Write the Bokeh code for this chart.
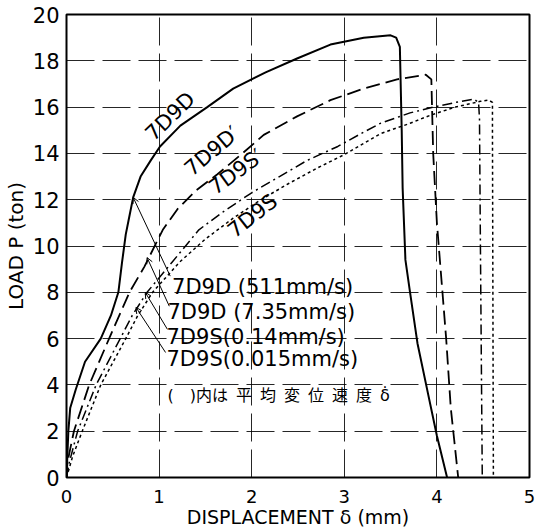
from bokeh.plotting import figure
from bokeh.models import Range1d, FixedTicker, ColumnDataSource, Arrow, OpenHead
from bokeh.core.properties import value
from bokeh.embed import file_html
from bokeh.resources import INLINE

# ---- data ----
x_7d9d_511 = [0, 0.01, 0.02, 0.04, 0.1, 0.2, 0.37, 0.48, 0.56, 0.6, 0.64, 0.67, 0.72, 0.8, 0.91, 1.01,
              1.23, 1.52, 1.8, 2.15, 2.49, 2.85, 3.21, 3.5, 3.56, 3.6, 3.62, 3.63, 3.66, 3.71, 3.79, 3.9, 4.0, 4.11]
y_7d9d_511 = [0, 1, 2, 3, 3.8, 5, 6, 7, 8, 9.3, 10.5, 11.1, 12.1, 13.0, 13.7, 14.3,
              15.2, 16.0, 16.8, 17.5, 18.1, 18.7, 19.0, 19.1, 19.0, 18.6, 15.0, 12.5, 9.4, 8.0, 5.8, 3.7, 1.8, 0]

x_7d9d_735 = [0, 0.01, 0.08, 0.245, 0.46, 0.68, 0.84, 1.04, 1.2, 1.4, 1.63, 1.9, 2.13, 2.49, 2.85, 3.21,
              3.57, 3.88, 3.94, 3.96, 4.0, 4.04, 4.1, 4.15, 4.23]
y_7d9d_735 = [0, 0.65, 2, 4, 6, 8, 9.1, 10.7, 11.6, 12.4, 13.1, 14.0, 14.8, 15.6, 16.3, 16.8,
              17.2, 17.4, 17.2, 14, 11, 9, 6, 3, 0]

x_7d9s_014 = [0, 0.03, 0.12, 0.32, 0.58, 0.71, 0.87, 1.14, 1.43, 1.7, 2.0, 2.3, 2.6, 2.93, 3.2, 3.39,
              3.71, 3.96, 4.2, 4.4, 4.45, 4.46, 4.47, 4.49]
y_7d9s_014 = [0, 0.65, 2, 4, 6, 7, 8, 9.3, 10.7, 11.5, 12.3, 13.0, 13.7, 14.3, 14.9, 15.3,
              15.75, 16.0, 16.2, 16.35, 16.2, 15.5, 10, 0]

x_7d9s_0015 = [0, 0.03, 0.065, 0.17, 0.37, 0.64, 0.77, 0.93, 1.22, 1.5, 1.8, 2.1, 2.4, 2.7, 3.0, 3.39,
               3.71, 3.93, 4.2, 4.47, 4.56, 4.6, 4.6, 4.61]
y_7d9s_0015 = [0, 0.4, 0.9, 2, 4, 6, 7, 8, 9.3, 10.3, 11.2, 12.0, 12.7, 13.35, 13.95, 14.85,
               15.3, 15.65, 16.0, 16.25, 16.3, 16.2, 15, 0]

curve_labels = ["7D9D", "7D9D′", "7D9S′", "7D9S"]
curve_label_x = [1.12, 1.57, 1.83, 2.01]
curve_label_y = [15.6, 14.1, 13.2, 11.3]
curve_label_angle = [44, 40, 36, 38]

legend_texts = ["7D9D (511mm/s)", "7D9D (7.35mm/s)", "7D9S(0.14mm/s)", "7D9S(0.015mm/s)"]
legend_x = [1.14, 1.09, 1.08, 1.08]
legend_y = [8.25, 7.17, 6.09, 5.1]

leader_x0 = [1.12, 1.11, 1.09, 1.07]
leader_y0 = [8.7, 7.4, 6.4, 5.4]
leader_x1 = [0.72, 0.87, 0.85, 0.75]
leader_y1 = [12.1, 9.5, 8.0, 7.35]

note_text = ["(\u2002\u2002)内は\u2002平\u2002均\u2002変\u2002位\u2002速\u2002度\u2002δ\u0307"]
note_x = [1.09]
note_y = [3.55]

x_ticks = [0, 1, 2, 3, 4, 5]
y_ticks = [0, 2, 4, 6, 8, 10, 12, 14, 16, 18, 20]

FONT = "DejaVu Sans"

p = figure(output_backend="svg", toolbar_location=None,
           frame_width=463, frame_height=463,
           min_border_left=60, min_border_top=14, min_border_right=6, min_border_bottom=45,
           x_range=Range1d(0, 5), y_range=Range1d(0, 20))

p.background_fill_color = "white"
p.border_fill_color = "white"
p.outline_line_color = "black"
p.outline_line_width = 2

for ax in (p.xaxis[0], p.yaxis[0]):
    ax.axis_line_color = None
    ax.major_tick_line_color = None
    ax.minor_tick_line_color = None
    ax.major_label_text_font = FONT
    ax.axis_label_text_font = FONT
    ax.axis_label_text_font_style = "normal"
    ax.axis_label_text_color = "black"
    ax.major_label_text_color = "black"

p.xaxis[0].ticker = FixedTicker(ticks=x_ticks)
p.yaxis[0].ticker = FixedTicker(ticks=y_ticks)
p.xaxis[0].major_label_text_font_size = "18px"
p.yaxis[0].major_label_text_font_size = "21px"
p.xaxis[0].axis_label = "DISPLACEMENT δ (mm)"
p.yaxis[0].axis_label = "LOAD P (ton)"
p.xaxis[0].axis_label_text_font_size = "19px"
p.yaxis[0].axis_label_text_font_size = "20px"
p.xaxis[0].major_label_standoff = 6
p.yaxis[0].major_label_standoff = 1
p.xaxis[0].axis_label_standoff = 0
p.yaxis[0].axis_label_standoff = 2

p.xgrid.grid_line_color = "black"
p.ygrid.grid_line_color = "black"
p.xgrid.grid_line_width = 1
p.ygrid.grid_line_width = 1
p.xgrid.grid_line_dash = "28 8"
p.ygrid.grid_line_dash = "28 8"
p.xgrid.grid_line_alpha = 0.85
p.ygrid.grid_line_alpha = 0.85

p.line(x_7d9d_511, y_7d9d_511, line_color="black", line_width=2)
p.line(x_7d9d_735, y_7d9d_735, line_color="black", line_width=1.8, line_dash="14 6")
p.line(x_7d9s_014, y_7d9s_014, line_color="black", line_width=1.5, line_dash="10 4 2 4")
p.line(x_7d9s_0015, y_7d9s_0015, line_color="black", line_width=1.5, line_dash="3 3")

lab_src = ColumnDataSource(dict(x=curve_label_x, y=curve_label_y, t=curve_labels, a=curve_label_angle))
p.text(x="x", y="y", text="t", angle="a", angle_units="deg", source=lab_src,
       text_font=value(FONT), text_font_size="21px", text_align="center",
       text_baseline="middle", text_color="black")

leg_src = ColumnDataSource(dict(x=legend_x, y=legend_y, t=legend_texts))
p.text(x="x", y="y", text="t", source=leg_src, text_font=value(FONT), text_font_size="21px",
       text_align="left", text_baseline="middle", text_color="black")

ldr_src = ColumnDataSource(dict(x0=leader_x0, y0=leader_y0, x1=leader_x1, y1=leader_y1))
p.add_layout(Arrow(end=OpenHead(size=6, line_width=1, line_color="black"),
                   x_start="x0", y_start="y0", x_end="x1", y_end="y1",
                   line_width=1, line_color="black", source=ldr_src))

note_src = ColumnDataSource(dict(x=note_x, y=note_y, t=note_text))
p.text(x="x", y="y", text="t", source=note_src, text_font=value("DejaVu Sans, Noto Sans CJK JP"),
       text_font_size="16px", text_align="left", text_baseline="middle", text_color="black")

open("out.html", "w").write(file_html(p, INLINE))
